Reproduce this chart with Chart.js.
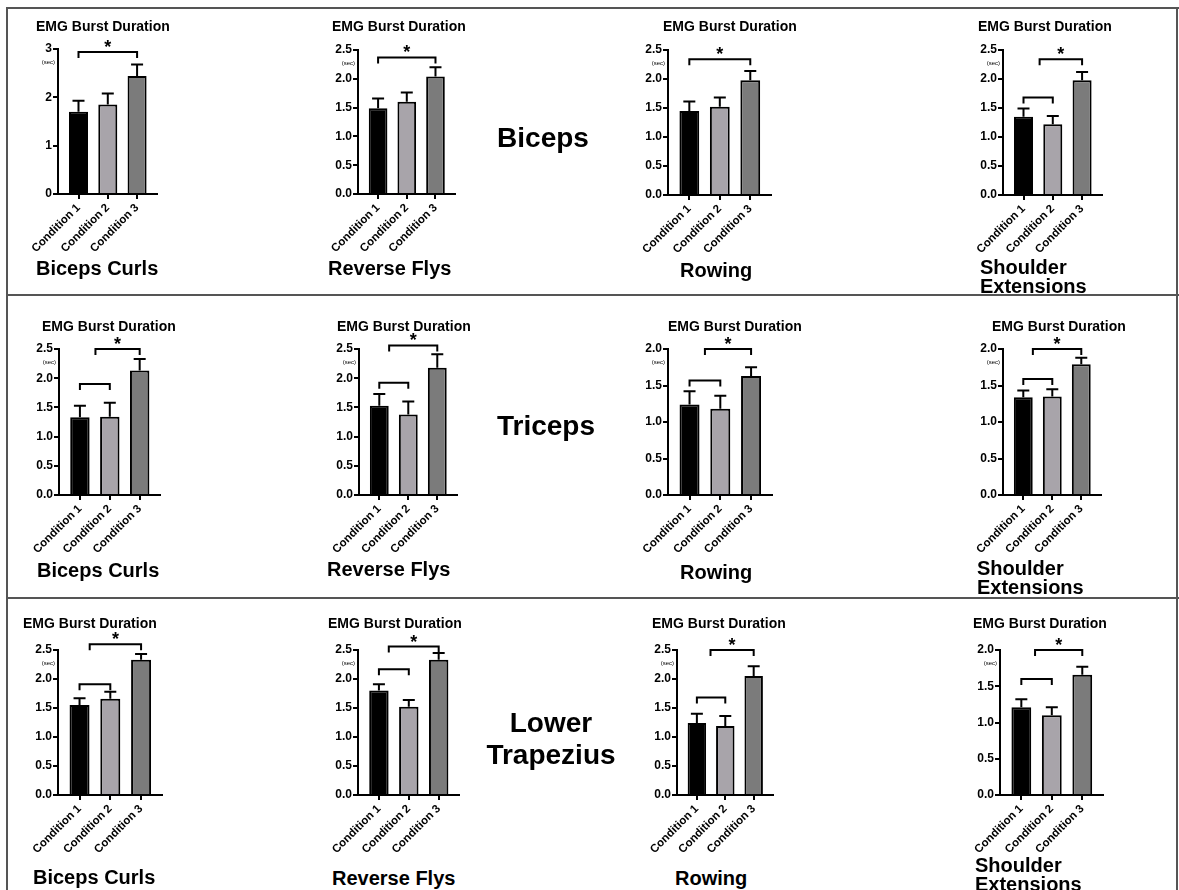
<!DOCTYPE html>
<html>
<head>
<meta charset="utf-8">
<script src="https://cdn.jsdelivr.net/npm/chart.js@4.4.1/dist/chart.umd.min.js"></script>
<style>
  body { margin: 0; background: #fff; }
  #page { position: relative; width: 1179px; height: 890px; overflow: hidden; font-family: 'Liberation Sans', Arial, sans-serif; }
  .frame { position: absolute; background: #555; }
  .txt { position: absolute; font-weight: bold; color: #000; white-space: pre; }
  canvas { position: absolute; }
</style>
</head>
<body>
<div id="page"></div>
<script>
// ---- data ----
const muscles = ['Biceps', 'Triceps', 'Lower Trapezius'];
const exercises = ['Biceps Curls', 'Reverse Flys', 'Rowing', 'Shoulder Extensions'];
const conditions = ['Condition 1', 'Condition 2', 'Condition 3'];
const chartTitle = 'EMG Burst Duration';
const unitLabel = '(sec)';

// means and SEM per exercise, per condition
const bicepsMean = [
  [1.70, 1.85, 2.44],
  [1.49, 1.60, 2.04],
  [1.45, 1.52, 1.98],
  [1.35, 1.22, 1.98]
];
const bicepsSem = [
  [0.23, 0.23, 0.24],
  [0.17, 0.16, 0.16],
  [0.16, 0.16, 0.16],
  [0.14, 0.14, 0.14]
];
const tricepsMean = [
  [1.33, 1.34, 2.13],
  [1.53, 1.38, 2.18],
  [1.24, 1.18, 1.63],
  [1.34, 1.35, 1.79]
];
const tricepsSem = [
  [0.20, 0.24, 0.20],
  [0.20, 0.22, 0.23],
  [0.18, 0.18, 0.12],
  [0.09, 0.10, 0.09]
];
const lowerTrapMean = [
  [1.55, 1.66, 2.33],
  [1.80, 1.52, 2.33],
  [1.24, 1.19, 2.05],
  [1.21, 1.10, 1.66]
];
const lowerTrapSem = [
  [0.12, 0.12, 0.10],
  [0.11, 0.12, 0.12],
  [0.16, 0.17, 0.17],
  [0.11, 0.11, 0.11]
];

// comparison brackets: [from condition, to condition, level (sec), significant]
const bicepsBrackets = [
  [[1, 3, 2.94, true]],
  [[1, 3, 2.37, true]],
  [[1, 3, 2.34, true]],
  [[1.55, 3, 2.34, true], [1, 2, 1.68, false]]
];
const tricepsBrackets = [
  [[1.52, 3, 2.50, true], [1, 2, 1.90, false]],
  [[1.34, 3, 2.56, true], [1, 2, 1.92, false]],
  [[1.50, 3, 2.00, true], [1, 2, 1.57, false]],
  [[1.33, 3, 2.00, true], [1, 2, 1.59, false]]
];
const lowerTrapBrackets = [
  [[1.33, 3, 2.60, true], [1, 2, 1.91, false]],
  [[1.33, 3, 2.56, true], [1, 2, 2.17, false]],
  [[1.48, 3, 2.50, true], [1, 2, 1.68, false]],
  [[1.45, 3, 2.00, true], [1, 2, 1.60, false]]
];

// y tick labels
const ticksTo3 = ['0', '1', '2', '3'];
const ticksTo25 = ['0.0', '0.5', '1.0', '1.5', '2.0', '2.5'];
const ticksTo2 = ['0.0', '0.5', '1.0', '1.5', '2.0'];
const yTicks = [
  [ticksTo3, ticksTo25, ticksTo25, ticksTo25],
  [ticksTo25, ticksTo25, ticksTo2, ticksTo2],
  [ticksTo25, ticksTo25, ticksTo25, ticksTo2]
];

const means = [bicepsMean, tricepsMean, lowerTrapMean];
const sems = [bicepsSem, tricepsSem, lowerTrapSem];
const brackets = [bicepsBrackets, tricepsBrackets, lowerTrapBrackets];

// ---- layout ----
const barColors = ['#000000', '#a8a4aa', '#7b7b7b'];
// [y axis x, x axis end, top tick y, zero y]
const axes = [
  [[58, 157, 49, 194], [358, 455, 50, 194], [668, 771, 50, 195], [1003, 1102, 50, 195]],
  [[59, 160, 349, 495], [359, 457, 349, 495], [668, 772, 349, 495], [1003, 1101, 349, 495]],
  [[58, 162, 650, 795], [358, 459, 650, 795], [677, 773, 650, 795], [1000, 1103, 650, 795]]
];
const titleX = [[36, 332, 663, 978], [42, 337, 668, 992], [23, 328, 652, 973]];
const titleY = [26, 326, 623];
const exX = [[36, 328, 680, 980], [37, 327, 680, 977], [33, 332, 675, 975]];
const exY = [[268, 268, 270, 267], [570, 569, 572, 568], [877, 878, 878, 865]];
const rowLabelPos = [[543, 138], [546, 426], [551, 739]];

const page = document.getElementById('page');
const FONT = "'Liberation Sans', Arial, sans-serif";
Chart.defaults.font.family = FONT;
Chart.defaults.color = '#000';

function frame(x, y, w, h) {
  const d = document.createElement('div');
  d.className = 'frame';
  Object.assign(d.style, { left: x + 'px', top: y + 'px', width: w + 'px', height: h + 'px' });
  page.appendChild(d);
}
frame(6, 7, 1173, 2);
frame(6, 7, 2, 883);
frame(1176, 7, 2, 883);
frame(6, 294, 1173, 2);
frame(6, 597, 1173, 2);

function addText(str, x, cy, size, lh, center) {
  const d = document.createElement('div');
  d.className = 'txt';
  d.textContent = str;
  const lines = str.split('\n').length;
  d.style.fontSize = size + 'px';
  d.style.lineHeight = lh + 'px';
  if (center) {
    d.style.top = (cy - lines * lh / 2) + 'px';
    d.style.left = (x - 150) + 'px';
    d.style.width = '300px';
    d.style.textAlign = 'center';
  } else {
    d.style.top = (cy - lh / 2) + 'px';
    d.style.left = x + 'px';
  }
  page.appendChild(d);
}

function annotations(mean, sem, bks, tickTop) {
  return {
    id: 'annot',
    afterDatasetsDraw(chart) {
      const { ctx, scales: { x, y }, chartArea } = chart;
      ctx.save();
      ctx.strokeStyle = '#000';
      ctx.fillStyle = '#000';
      ctx.lineWidth = 2;
      // upper error bars
      mean.forEach((m, i) => {
        const px = x.getPixelForValue(i + 1);
        const y0 = y.getPixelForValue(m);
        const y1 = y.getPixelForValue(m + sem[i]);
        ctx.beginPath();
        ctx.moveTo(px, y0);
        ctx.lineTo(px, y1);
        ctx.moveTo(px - 6, y1);
        ctx.lineTo(px + 6, y1);
        ctx.stroke();
      });
      // brackets
      ctx.lineWidth = 2;
      bks.forEach(([a, b, lvl, sig]) => {
        const x1 = x.getPixelForValue(a);
        const x2 = x.getPixelForValue(b);
        const py = y.getPixelForValue(lvl);
        ctx.beginPath();
        ctx.moveTo(x1, py + 6);
        ctx.lineTo(x1, py);
        ctx.lineTo(x2, py);
        ctx.lineTo(x2, py + 6);
        ctx.stroke();
        if (sig) {
          ctx.font = 'bold 18px ' + FONT;
          ctx.textAlign = 'center';
          ctx.textBaseline = 'alphabetic';
          ctx.fillText('*', (x1 + x2) / 2, py + 1);
        }
      });
      // unit
      ctx.font = '6px ' + FONT;
      ctx.textAlign = 'right';
      ctx.textBaseline = 'middle';
      ctx.fillText(unitLabel, chartArea.left - 3, y.getPixelForValue(tickTop) + 13);
      ctx.restore();
    }
  };
}

function makeChart(r, c) {
  const [ax, axEnd, yTop, yZero] = axes[r][c];
  const padTop = 28, padRight = 8, yW = 46, xH = 64;
  const w = axEnd - ax + yW + padRight;
  const h = yZero - yTop + padTop + xH;
  const cv = document.createElement('canvas');
  cv.width = w;
  cv.height = h;
  Object.assign(cv.style, { left: (ax - yW) + 'px', top: (yTop - padTop) + 'px', width: w + 'px', height: h + 'px' });
  page.appendChild(cv);

  const mean = means[r][c];
  const sem = sems[r][c];
  const tickLabels = yTicks[r][c];
  const tickVals = tickLabels.map(Number);
  const yMax = tickVals[tickVals.length - 1];

  new Chart(cv, {
    type: 'bar',
    data: {
      datasets: [{
        data: mean.map((v, i) => ({ x: i + 1, y: v })),
        backgroundColor: barColors,
        borderColor: '#000',
        borderWidth: 2,
        barPercentage: 0.65,
        categoryPercentage: 1
      }]
    },
    options: {
      responsive: false,
      animation: false,
      events: [],
      layout: { padding: { top: padTop, right: padRight, left: 0, bottom: 0 } },
      plugins: { legend: { display: false }, tooltip: { enabled: false } },
      scales: {
        x: {
          type: 'linear',
          min: 0.3,
          max: 3.68,
          offset: false,
          afterBuildTicks: s => { s.ticks = conditions.map((_, i) => ({ value: i + 1 })); },
          afterFit: s => { s.height = xH; },
          ticks: {
            autoSkip: false,
            minRotation: 45,
            maxRotation: 45,
            padding: 2,
            color: '#000',
            font: { size: 11.5, weight: 'bold' },
            callback: v => conditions[Math.round(v) - 1]
          },
          grid: { offset: false, drawOnChartArea: false, drawTicks: true, tickLength: 5, color: '#000', lineWidth: 2 },
          border: { display: true, color: '#000', width: 2 }
        },
        y: {
          min: 0,
          max: yMax,
          afterBuildTicks: s => { s.ticks = tickVals.map(v => ({ value: v })); },
          afterFit: s => { s.width = yW; },
          ticks: {
            padding: 1,
            color: '#000',
            font: { size: 12, weight: 'bold' },
            callback: (v, i) => tickLabels[i]
          },
          grid: { drawOnChartArea: false, drawTicks: true, tickLength: 5, color: '#000', lineWidth: 2 },
          border: { display: true, color: '#000', width: 2 }
        }
      }
    },
    plugins: [annotations(mean, sem, brackets[r][c], yMax)]
  });

  addText(chartTitle, titleX[r][c], titleY[r], 14, 16, false);
  const ex = c === 3 ? exercises[c].replace(' ', '\n') : exercises[c];
  addText(ex, exX[r][c], exY[r][c], 20, 19, false);
}

for (let r = 0; r < muscles.length; r++) {
  for (let c = 0; c < exercises.length; c++) makeChart(r, c);
  const [mx, my] = rowLabelPos[r];
  addText(muscles[r].replace(' ', '\n'), mx, my, 28, 32, true);
}
</script>
</body>
</html>
